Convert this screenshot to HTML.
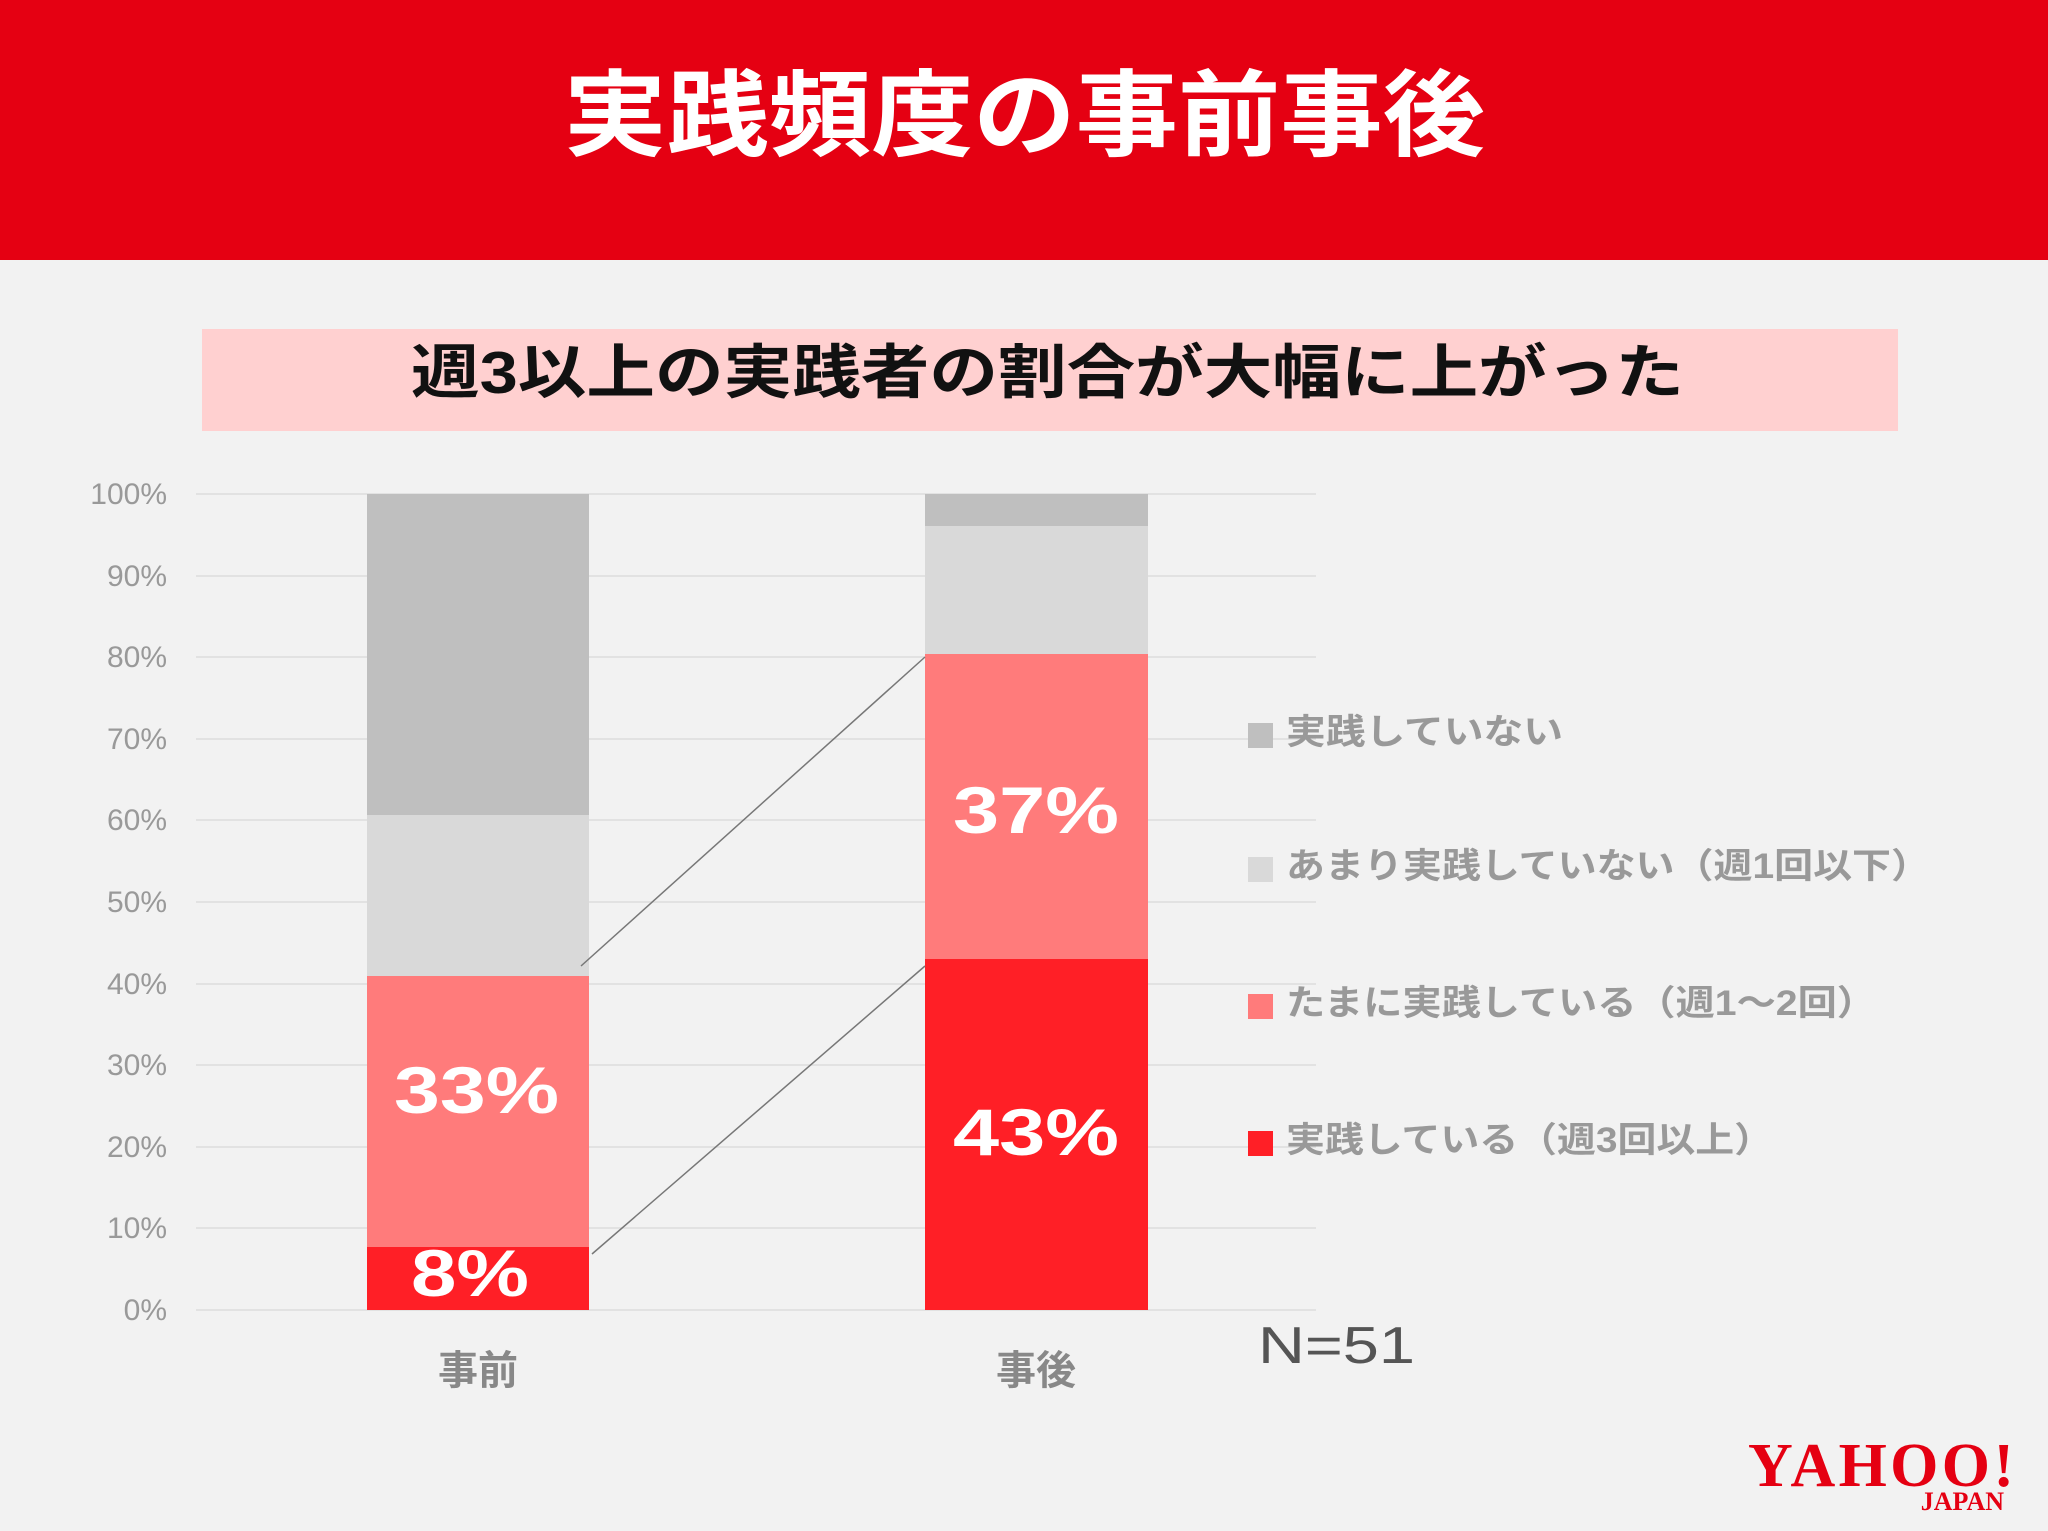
<!DOCTYPE html>
<html><head><meta charset="utf-8"><style>
body{margin:0;width:2048px;height:1531px;background:#F2F2F2;overflow:hidden}
svg{display:block}
</style></head><body>
<svg width="2048" height="1531" xmlns="http://www.w3.org/2000/svg" font-family="'Liberation Sans','Noto Sans CJK JP',sans-serif">
<rect x="0" y="0" width="2048" height="260" fill="#E50012"/>
<text x="564" y="148" font-size="94" font-weight="bold" fill="#fff" textLength="921" lengthAdjust="spacingAndGlyphs">実践頻度の事前事後</text>
<rect x="202" y="329" width="1696" height="102" fill="#FFD0D0"/>
<text x="411" y="393" font-size="59" font-weight="bold" fill="#111" textLength="1273" lengthAdjust="spacingAndGlyphs">週3以上の実践者の割合が大幅に上がった</text>
<g stroke="#DDDDDD" stroke-width="1.5">
<line x1="196" x2="1316" y1="494" y2="494"/><line x1="196" x2="1316" y1="576" y2="576"/><line x1="196" x2="1316" y1="657" y2="657"/><line x1="196" x2="1316" y1="739" y2="739"/><line x1="196" x2="1316" y1="820" y2="820"/><line x1="196" x2="1316" y1="902" y2="902"/><line x1="196" x2="1316" y1="984" y2="984"/><line x1="196" x2="1316" y1="1065" y2="1065"/><line x1="196" x2="1316" y1="1147" y2="1147"/><line x1="196" x2="1316" y1="1228" y2="1228"/><line x1="196" x2="1316" y1="1310" y2="1310"/>
</g>
<g font-size="30" fill="#999" text-anchor="end">
<text x="167" y="504">100%</text><text x="167" y="586">90%</text><text x="167" y="667">80%</text><text x="167" y="749">70%</text><text x="167" y="830">60%</text><text x="167" y="912">50%</text><text x="167" y="994">40%</text><text x="167" y="1075">30%</text><text x="167" y="1157">20%</text><text x="167" y="1238">10%</text><text x="167" y="1320">0%</text>
</g>
<rect x="367" y="494" width="222" height="321" fill="#BFBFBF"/>
<rect x="367" y="815" width="222" height="161" fill="#D9D9D9"/>
<rect x="367" y="976" width="222" height="271" fill="#FF7B7B"/>
<rect x="367" y="1247" width="222" height="63" fill="#FF1F26"/>
<rect x="925" y="494" width="223" height="32" fill="#BFBFBF"/>
<rect x="925" y="526" width="223" height="128" fill="#D9D9D9"/>
<rect x="925" y="654" width="223" height="305" fill="#FF7B7B"/>
<rect x="925" y="959" width="223" height="351" fill="#FF1F26"/>
<line x1="581" y1="966" x2="925" y2="657" stroke="#777" stroke-width="1.5"/>
<line x1="592" y1="1254" x2="925" y2="966" stroke="#777" stroke-width="1.5"/>
<g font-size="66" font-weight="bold" fill="#fff" lengthAdjust="spacingAndGlyphs">
<text x="394" y="1113" textLength="165" lengthAdjust="spacingAndGlyphs">33%</text>
<text x="411" y="1296" textLength="118" lengthAdjust="spacingAndGlyphs">8%</text>
<text x="953" y="833" textLength="166" lengthAdjust="spacingAndGlyphs">37%</text>
<text x="953" y="1155" textLength="166" lengthAdjust="spacingAndGlyphs">43%</text>
</g>
<g font-size="40" font-weight="bold" fill="#888" text-anchor="middle">
<text x="478" y="1384">事前</text><text x="1036" y="1384">事後</text>
</g>
<text x="1258" y="1363" font-size="52" fill="#555" textLength="157" lengthAdjust="spacingAndGlyphs">N=51</text>
<rect x="1248" y="723" width="25" height="25" fill="#BFBFBF"/>
<rect x="1248" y="857" width="25" height="25" fill="#D9D9D9"/>
<rect x="1248" y="994" width="25" height="25" fill="#FF7B7B"/>
<rect x="1248" y="1131" width="25" height="25" fill="#FF1F26"/>
<g font-size="35" font-weight="bold" fill="#999">
<text x="1286" y="744" textLength="277" lengthAdjust="spacingAndGlyphs">実践していない</text>
<text x="1286" y="878" textLength="644" lengthAdjust="spacingAndGlyphs">あまり実践していない（週1回以下）</text>
<text x="1286" y="1015" textLength="590" lengthAdjust="spacingAndGlyphs">たまに実践している（週1～2回）</text>
<text x="1286" y="1152" textLength="487" lengthAdjust="spacingAndGlyphs">実践している（週3回以上）</text>
</g>
<text x="1748" y="1486" font-family="'Liberation Serif',serif" font-size="62" font-weight="bold" fill="#E50012" textLength="266">YAHOO!</text>
<text x="2004" y="1510" text-anchor="end" font-family="'Liberation Serif',serif" font-size="26" font-weight="bold" fill="#E50012">JAPAN</text>
</svg>
</body></html>
